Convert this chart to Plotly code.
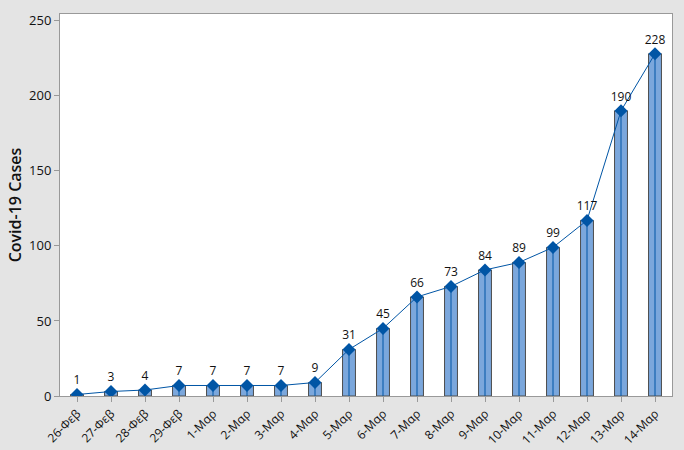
import plotly.graph_objects as go

dates = ["26-Φεβ", "27-Φεβ", "28-Φεβ", "29-Φεβ", "1-Μαρ", "2-Μαρ", "3-Μαρ", "4-Μαρ",
         "5-Μαρ", "6-Μαρ", "7-Μαρ", "8-Μαρ", "9-Μαρ", "10-Μαρ", "11-Μαρ", "12-Μαρ",
         "13-Μαρ", "14-Μαρ"]
cases = [1, 3, 4, 7, 7, 7, 7, 9, 31, 45, 66, 73, 84, 89, 99, 117, 190, 228]
y_ticks = [0, 50, 100, 150, 200, 250]

line_color = "#0055a5"
font_family = "Open Sans, DejaVu Sans, sans-serif"

fig = go.Figure()
fig.add_trace(go.Bar(
    x=dates, y=cases, width=0.38,
    marker=dict(color="#7ba7dc", line=dict(color="#4d4d4d", width=1)),
    hoverinfo="skip",
))
fig.add_trace(go.Scatter(
    x=dates, y=cases, mode="markers",
    marker=dict(size=0.1, color=line_color),
    error_y=dict(type="data", symmetric=False, array=[0] * len(cases),
                 arrayminus=cases, width=0, thickness=1, color=line_color),
    hoverinfo="skip",
))
fig.add_trace(go.Scatter(
    x=dates, y=cases, mode="lines+markers+text",
    line=dict(color=line_color, width=1),
    marker=dict(symbol="diamond", size=10, color=line_color),
    text=[str(v) for v in cases], textposition="top center",
    textfont=dict(size=12, color="#111111", family=font_family),
))

fig.update_layout(
    width=684, height=450,
    margin=dict(l=60, r=12, t=14, b=54),
    paper_bgcolor="#e4e4e4", plot_bgcolor="white",
    showlegend=False,
    font=dict(family=font_family, size=12, color="#111111"),
)
fig.update_xaxes(
    type="category", range=[-0.5, len(dates) - 0.5], automargin=False,
    tickangle=-45, ticks="outside", ticklen=5, tickcolor="#999999",
    showline=True, linecolor="#999999", mirror=True, showgrid=False,
    tickfont=dict(size=12),
)
fig.update_yaxes(
    range=[0, 254.5], tickvals=y_ticks, ticks="outside", ticklen=5, tickcolor="#999999",
    showline=True, linecolor="#999999", mirror=True, showgrid=False, zeroline=False,
    automargin=False,
    title=dict(text="Covid-19 Cases", font=dict(size=16, color="#111111", weight=600), standoff=3),
    tickfont=dict(size=13),
)

fig.write_html("out.html", config={"displayModeBar": False},
               post_script="document.body.style.margin='0';document.body.style.padding='0';")
